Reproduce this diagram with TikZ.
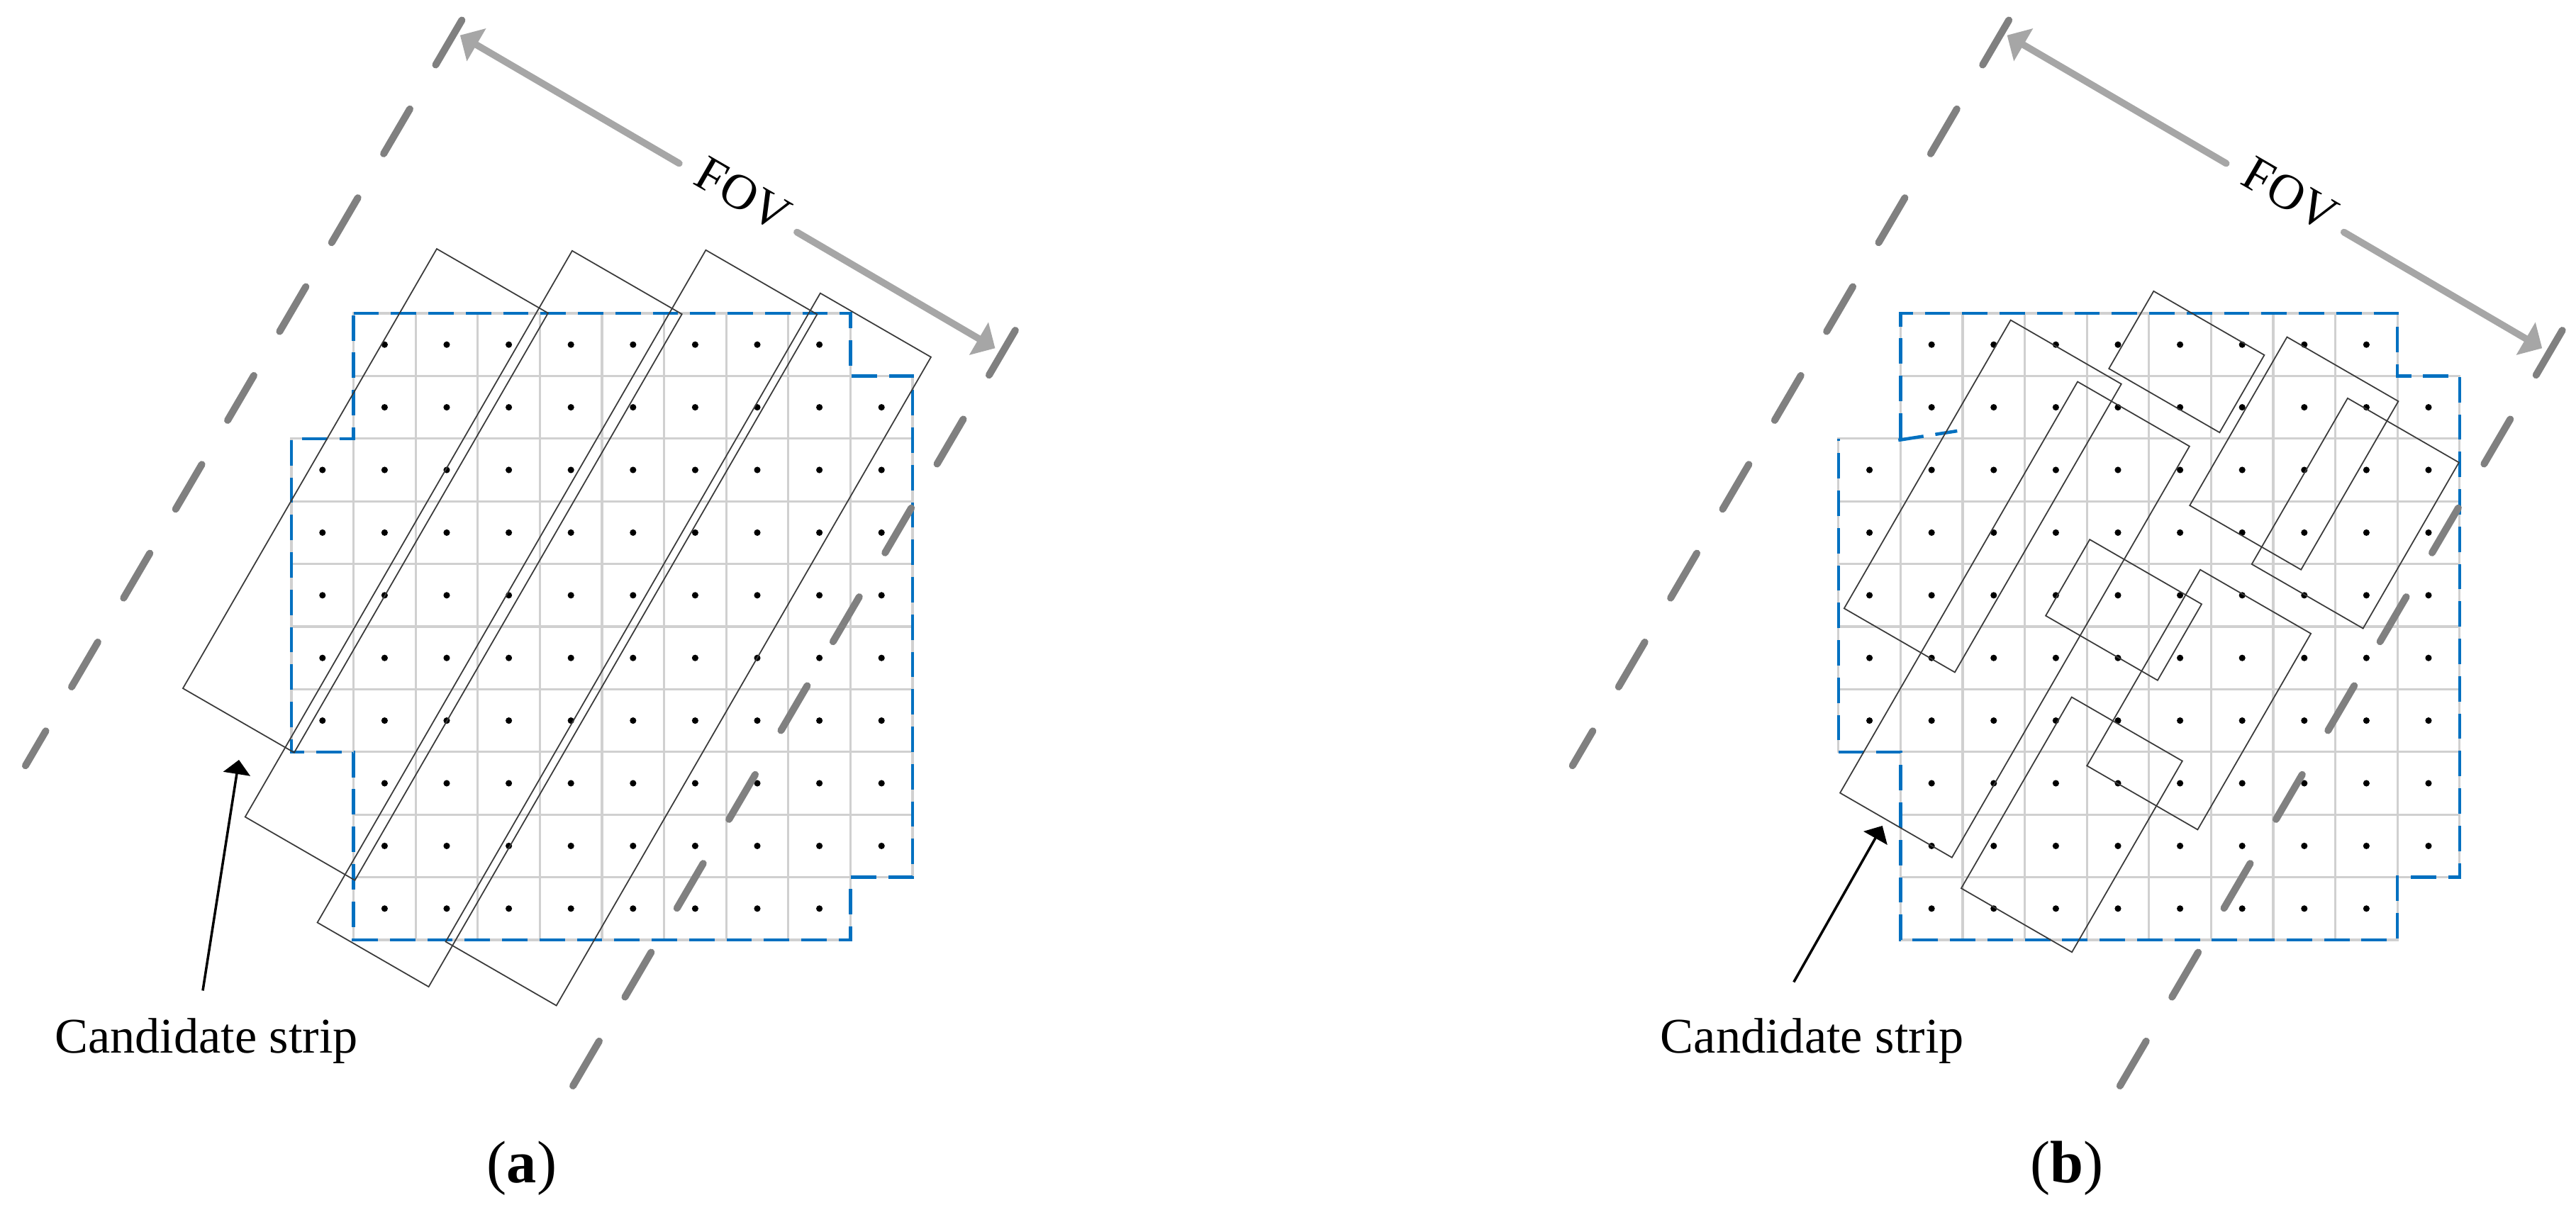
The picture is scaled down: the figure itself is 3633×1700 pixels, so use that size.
\documentclass[tikz,border=0pt]{standalone}
\usepackage{fontspec}
\setmainfont{Liberation Serif}
\usetikzlibrary{arrows.meta}
\definecolor{gridgray}{HTML}{D0D0D0}
\definecolor{bndblue}{HTML}{0070C0}
\definecolor{fovgray}{HTML}{808080}
\definecolor{arrgray}{HTML}{A6A6A6}
\definecolor{stripcol}{HTML}{3A3A3A}
\tikzset{
  gridline/.style={draw=gridgray, line width=0.95pt},
  bnd/.style={draw=bndblue, line width=1.3pt, dash pattern=on 10.2pt off 4.8pt},
  stripbox/.style={draw=stripcol, line width=0.5pt},
  fovline/.style={draw=fovgray, line width=2.85pt, line cap=round, dash pattern=on 20.8pt off 20.5pt},
  fovarrow/.style={draw=arrgray, line width=2.75pt, line cap=round, -{Triangle[length=7.6pt,width=14.8pt]}},
  candarrow/.style={draw=black, line width=1pt, -{Triangle[length=5.7pt,width=10.8pt]}},
  lbl/.style={font=\fontsize{20}{24}\selectfont, inner sep=0pt},
  panellbl/.style={font=\fontsize{24}{28}\selectfont, inner sep=0pt},
  rot/.style={x={(0.00866cm,-0.005cm)}, y={(0.005cm,0.00866cm)}},
}
\newcommand{\cellgrid}{%
  \foreach \j/\ca/\cb in {0/1/8,1/1/9,2/0/9,3/0/9,4/0/9,5/0/9,6/0/9,7/1/9,8/1/9,9/1/8}{%
    \foreach \k in {\ca,...,\cb}{%
      \draw[gridline] ({411+87.6*\k},{442+88.4*\j}) rectangle ++(87.6,88.4);
    }%
  }%
  \foreach \j/\ca/\cb in {0/1/8,1/1/9,2/0/9,3/0/9,4/0/9,5/0/9,6/0/9,7/1/9,8/1/9,9/1/8}{%
    \foreach \k in {\ca,...,\cb}{%
      \fill[black] ({454.8+87.6*\k},{486.2+88.4*\j}) circle[radius=1.3pt];
    }%
  }%
}
\newcommand{\stripat}[4]{\draw[stripbox] (#1,#3) -- (#2,#3) -- (#2,#4) -- (#1,#4) -- cycle;}
\newcommand{\fovpart}[1]{%
  \begin{scope}[rot]
    \draw[fovline] (577.5,300.7) -- (570.5,-916.2);
    \draw[fovline] (1471,312) -- (1463.8,-922.3);
    \coordinate (#1L) at (586,281);
    \coordinate (#1Lg) at (943.5,279);
    \coordinate (#1Rg) at (1135.5,278);
    \coordinate (#1R) at (1459,276);
    \node[lbl, rotate=-30] (#1fov) at (1043,286) {FOV};
  \end{scope}
  \draw[fovarrow] (#1Lg) -- (#1L);
  \draw[fovarrow] (#1Rg) -- (#1R);
}
\begin{document}
\begin{tikzpicture}[x=0.01cm, y=-0.01cm]
\useasboundingbox (0,0) rectangle (3633,1700);
% ---------- panel (a) ----------
\begin{scope}
  \cellgrid
  \draw[bnd] (498.6,442) -- (1199.4,442) -- (1199.4,530.4) -- (1287,530.4) -- (1287,1237.6)
    -- (1199.4,1237.6) -- (1199.4,1326) -- (498.6,1326) -- (498.6,1060.8) -- (411,1060.8)
    -- (411,618.8) -- (498.6,618.8) -- cycle;
  \begin{scope}[rot]
    \stripat{708}{889}{-711}{4}
    \stripat{874.5}{1053}{-824}{97}
    \stripat{1037}{1218}{-902}{192}
    \stripat{1207}{1387}{-835}{220}
  \end{scope}
  \fovpart{pa}
  \node[lbl, anchor=base] (canda) at (291,1485) {Candidate strip};
  \coordinate (candaTip) at (337,1072);
  \draw[candarrow] ([shift={(-5,-38)}]canda.north) -- (candaTip);
  \node[panellbl, anchor=base] (laba) at (736,1668) {(\textbf{a})};
\end{scope}
% ---------- panel (b) ----------
\begin{scope}[xshift=21.805cm]
  \cellgrid
  \draw[bnd] (498.6,618.8) -- (498.6,442) -- (1199.4,442) -- (1199.4,530.4) -- (1287,530.4) -- (1287,1237.6)
    -- (1199.4,1237.6) -- (1199.4,1326) -- (498.6,1326) -- (498.6,1060.8) -- (411,1060.8)
    -- (411,618.8);
  \draw[bnd] (495.5,621) -- (578.5,608);
  \begin{scope}[rot]
    \stripat{791}{971}{-533}{-64}
    \stripat{916}{1098}{-761}{-92}
    \stripat{945}{1125}{-54}{72}
    \stripat{1140}{1321}{-164}{110}
    \stripat{1257}{1438}{-192}{78}
    \stripat{1042}{1224}{-400}{-276}
    \stripat{1198}{1378}{-554}{-235}
    \stripat{1131}{1311}{-792}{-481}
  \end{scope}
  \fovpart{pb}
  \node[lbl, anchor=base] (candb) at (374,1485) {Candidate strip};
  \coordinate (candbTip) at (473,1165);
  \draw[candarrow] ([shift={(-26,-50)}]candb.north) -- (candbTip);
  \node[panellbl, anchor=base] (labb) at (733,1668) {(\textbf{b})};
\end{scope}
\end{tikzpicture}
\end{document}
